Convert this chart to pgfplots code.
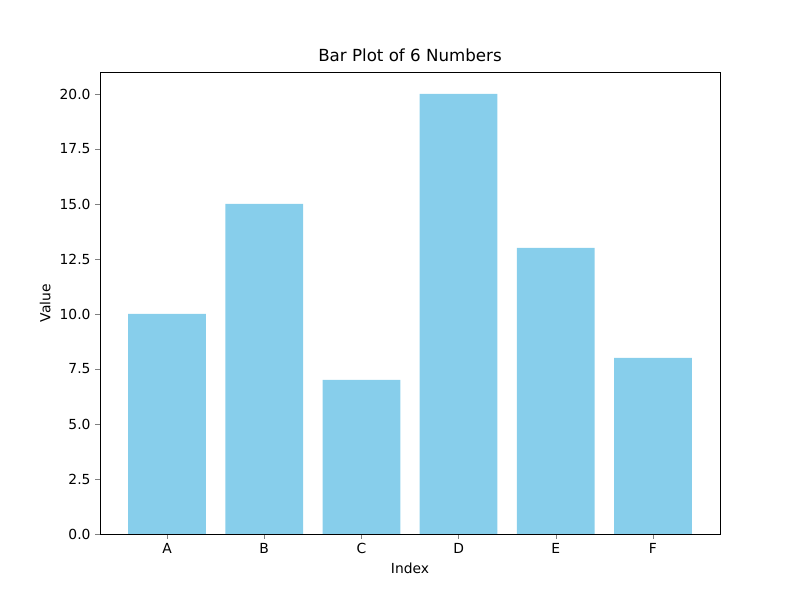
\documentclass[border=0pt]{standalone}
\usepackage{pgfplots}
\pgfplotsset{compat=1.18}
\usepackage{fontspec}
\setmainfont{DejaVu Sans}
\definecolor{skyblue}{HTML}{87CEEB}
\begin{document}
\begin{tikzpicture}
\useasboundingbox (0,0) rectangle (600pt,450pt);
\begin{axis}[
  at={(75pt,49.5pt)}, anchor=south west,
  scale only axis, width=465pt, height=346.5pt,
  xmin=-0.69, xmax=5.69, ymin=0, ymax=21,
  xtick={0,1,2,3,4,5}, xticklabels={A,B,C,D,E,F},
  ytick={0,2.5,5,7.5,10,12.5,15,17.5,20},
  yticklabel style={/pgf/number format/.cd,fixed,fixed zerofill,precision=1},
  /pgf/number format/assume math mode=true,
  tick align=outside, major tick length=3.6pt,
  xtick pos=bottom, ytick pos=left,
  tick label style={font=\fontsize{10.4}{12}\selectfont},
  label style={font=\fontsize{10.4}{12}\selectfont},
  title style={font=\fontsize{12.5}{14}\selectfont, yshift=-2pt},
  title={Bar Plot of 6 Numbers},
  xlabel={Index}, ylabel={Value},
  ybar, bar width=0.8, 
]
\addplot[fill=skyblue, draw=none, bar shift=0pt] coordinates {(0,10) (1,15) (2,7) (3,20) (4,13) (5,8)};
\end{axis}
\end{tikzpicture}
\end{document}
